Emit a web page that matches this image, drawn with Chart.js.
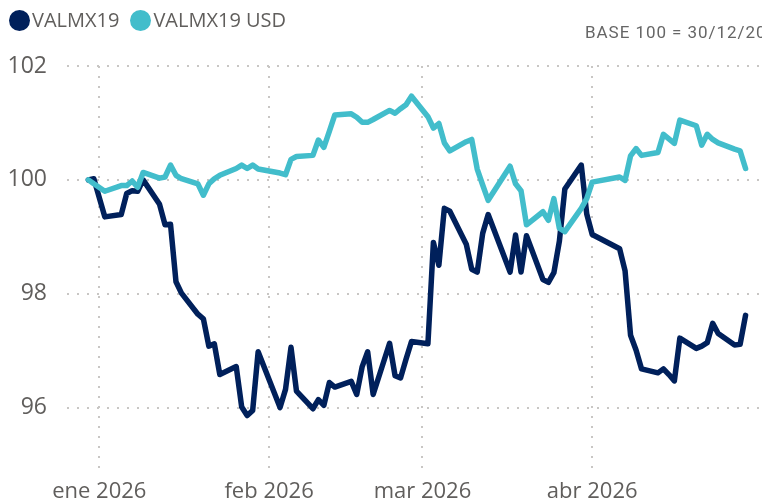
<!DOCTYPE html>
<html lang="es">
<head>
<meta charset="utf-8">
<title>VALMX19 vs VALMX19 USD</title>
<script src="https://cdn.jsdelivr.net/npm/chart.js@4/dist/chart.umd.min.js"></script>
<style>
    html, body { margin: 0; padding: 0; background: #fff; }
    #wrap { position: relative; width: 762px; height: 504px; overflow: hidden; font-family: 'Open Sans', sans-serif; }
    #chart { position: absolute; left: 0; top: 0; }
    .legend { position: absolute; top: 6px; left: 9px; display: flex; align-items: center; font-size: 20px; line-height: 28px; color: #605e5c; white-space: nowrap; }
    .legend .item { display: flex; align-items: center; margin-right: 11px; }
    .legend .dot { display: inline-block; width: 21px; height: 21px; border-radius: 50%; margin-right: 2px; }
    #base { position: absolute; left: 585px; top: 22px; font-family: Roboto, sans-serif; font-size: 17px; letter-spacing: 0.95px; color: #666; white-space: nowrap; }
</style>
</head>
<body>
<div id="wrap">
    <canvas id="chart" width="762" height="504"></canvas>
    <div class="legend">
        <div class="item"><span class="dot" style="background:#00205B"></span>VALMX19</div>
        <div class="item"><span class="dot" style="background:#42BDCB"></span>VALMX19 USD</div>
    </div>
    <div id="base">BASE 100 = 30/12/2025</div>
</div>
<script>
// ==================== DATA ====================

const dates = [
    '2025-12-30', '2025-12-31', '2026-01-02', '2026-01-05', '2026-01-06', '2026-01-07', '2026-01-08', '2026-01-09',
    '2026-01-12', '2026-01-13', '2026-01-14', '2026-01-15', '2026-01-16', '2026-01-19', '2026-01-20', '2026-01-21',
    '2026-01-22', '2026-01-23', '2026-01-26', '2026-01-27', '2026-01-28', '2026-01-29', '2026-01-30', '2026-02-03',
    '2026-02-04', '2026-02-05', '2026-02-06', '2026-02-09', '2026-02-10', '2026-02-11', '2026-02-12', '2026-02-13',
    '2026-02-16', '2026-02-17', '2026-02-18', '2026-02-19', '2026-02-20', '2026-02-23', '2026-02-24', '2026-02-25',
    '2026-02-26', '2026-02-27', '2026-03-02', '2026-03-03', '2026-03-04', '2026-03-05', '2026-03-06', '2026-03-09',
    '2026-03-10', '2026-03-11', '2026-03-12', '2026-03-13', '2026-03-17', '2026-03-18', '2026-03-19', '2026-03-20',
    '2026-03-23', '2026-03-24', '2026-03-25', '2026-03-26', '2026-03-27', '2026-03-30', '2026-03-31', '2026-04-01',
    '2026-04-06', '2026-04-07', '2026-04-08', '2026-04-09', '2026-04-10', '2026-04-13', '2026-04-14', '2026-04-15',
    '2026-04-16', '2026-04-17', '2026-04-20', '2026-04-21', '2026-04-22', '2026-04-23', '2026-04-24', '2026-04-27',
    '2026-04-28', '2026-04-29'
];

const valmx19 = [
    100.00, 100.02, 99.35, 99.39, 99.76, 99.81, 99.80, 100.00,
    99.57, 99.21, 99.22, 98.21, 98.01, 97.64, 97.56, 97.08,
    97.12, 96.58, 96.72, 96.01, 95.86, 95.95, 96.98, 96.00,
    96.32, 97.06, 96.29, 95.98, 96.14, 96.04, 96.44, 96.36,
    96.46, 96.23, 96.72, 96.98, 96.23, 97.13, 96.56, 96.52,
    96.85, 97.16, 97.12, 98.90, 98.50, 99.50, 99.45, 98.87,
    98.43, 98.38, 99.06, 99.39, 98.38, 99.03, 98.38, 99.02,
    98.25, 98.20, 98.37, 98.92, 99.84, 100.26, 99.40, 99.04,
    98.79, 98.40, 97.27, 97.01, 96.68, 96.61, 96.68, 96.58,
    96.47, 97.22, 97.04, 97.08, 97.14, 97.48, 97.30, 97.10,
    97.11, 97.62
];

const valmx19Usd = [
    100.00, 99.93, 99.80, 99.90, 99.90, 99.98, 99.87, 100.13,
    100.03, 100.05, 100.26, 100.08, 100.02, 99.93, 99.73, 99.93,
    100.02, 100.08, 100.20, 100.26, 100.20, 100.26, 100.19, 100.12,
    100.09, 100.36, 100.41, 100.43, 100.70, 100.57, 100.85, 101.14,
    101.16, 101.10, 101.01, 101.01, 101.06, 101.22, 101.17, 101.25,
    101.32, 101.47, 101.11, 100.91, 100.99, 100.65, 100.51, 100.67,
    100.71, 100.19, 99.91, 99.64, 100.24, 99.93, 99.81, 99.21,
    99.44, 99.29, 99.67, 99.15, 99.09, 99.50, 99.67, 99.96,
    100.05, 99.99, 100.42, 100.55, 100.43, 100.48, 100.80, 100.72,
    100.64, 101.05, 100.95, 100.61, 100.80, 100.71, 100.65, 100.54,
    100.51, 100.20
];

const monthTicks = ['2026-01-01', '2026-02-01', '2026-03-01', '2026-04-01'];
const monthLabels = ['ene 2026', 'feb 2026', 'mar 2026', 'abr 2026'];
const yTicks = [96, 98, 100, 102];

// ==================== HELPERS ====================

const DAY_MS = 86400000;
const ORIGIN = Date.UTC(2026, 0, 1);

function dayOffset(iso) {
    const [y, m, d] = iso.split('-').map(Number);
    return (Date.UTC(y, m - 1, d) - ORIGIN) / DAY_MS;
}

const xDays = dates.map(dayOffset);
const tickDays = monthTicks.map(dayOffset);
const toPoints = (vals) => vals.map((v, i) => ({ x: xDays[i], y: v }));

const GRID = { color: '#c8c6c4', lineWidth: 2, drawTicks: false };
const BORDER = { display: false, dash: [2, 8] };
const TEXT = '#605e5c';

// ==================== CHART ====================

new Chart(document.getElementById('chart'), {
    type: 'line',
    data: {
        datasets: [
            {
                label: 'VALMX19',
                data: toPoints(valmx19),
                borderColor: '#00205B',
                borderWidth: 5.5,
                order: 1
            },
            {
                label: 'VALMX19 USD',
                data: toPoints(valmx19Usd),
                borderColor: '#42BDCB',
                borderWidth: 5.5,
                order: 0
            }
        ]
    },
    options: {
        responsive: false,
        animation: false,
        layout: { padding: { top: 66, left: 0, right: 0, bottom: 0 } },
        elements: {
            point: { radius: 0, hoverRadius: 0 },
            line: { tension: 0, fill: false, borderJoinStyle: 'round', borderCapStyle: 'round' }
        },
        plugins: {
            legend: { display: false },
            tooltip: { enabled: false }
        },
        scales: {
            x: {
                type: 'linear',
                min: -5.9,
                max: 121,
                grid: GRID,
                border: BORDER,
                afterBuildTicks: (axis) => { axis.ticks = tickDays.map(v => ({ value: v })); },
                afterFit: (axis) => { axis.height = 29; },
                ticks: {
                    autoSkip: false,
                    maxRotation: 0,
                    padding: 8,
                    color: TEXT,
                    font: { family: "'Open Sans', sans-serif", size: 22 },
                    callback: (v, i) => monthLabels[i]
                }
            },
            y: {
                min: 94.9,
                max: 102,
                grid: GRID,
                border: BORDER,
                afterBuildTicks: (axis) => { axis.ticks = yTicks.map(v => ({ value: v })); },
                afterFit: (axis) => { axis.width = 67; },
                ticks: {
                    padding: 20,
                    color: TEXT,
                    font: { family: "'Open Sans', sans-serif", size: 23 },
                    callback: (v) => String(v)
                }
            }
        }
    }
});
</script>
</body>
</html>
